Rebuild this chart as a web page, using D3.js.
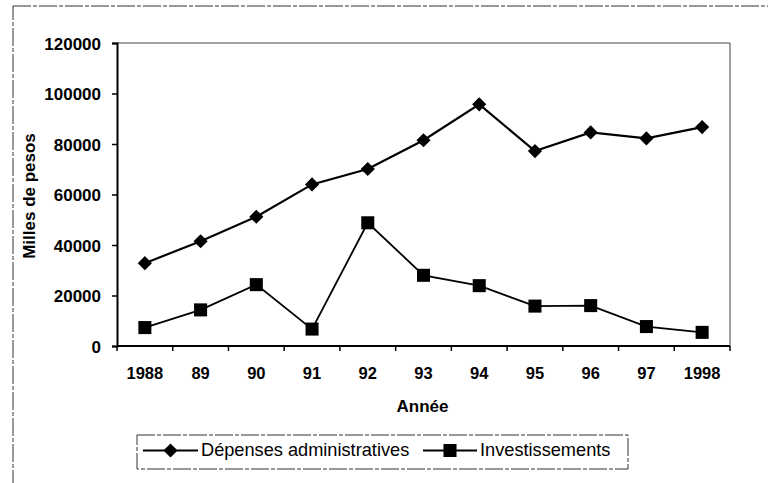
<!DOCTYPE html>
<html>
<head>
<meta charset="utf-8">
<script src="https://cdn.jsdelivr.net/npm/d3@7"></script>
<style>
  body { margin: 0; background: #fff; }
  text { font-family: "Liberation Sans", Arial, sans-serif; fill: #000; }
</style>
</head>
<body>
<div id="chart"></div>
<script>
const years = ["1988", "89", "90", "91", "92", "93", "94", "95", "96", "97", "1998"];
const depenses = [32800, 41500, 51200, 64000, 70100, 81500, 95700, 77200, 84600, 82200, 86700];
const investissements = [7300, 14300, 24300, 6700, 48800, 28000, 23900, 15800, 16000, 7700, 5400];
const yTicks = [0, 20000, 40000, 60000, 80000, 100000, 120000];
const seriesNames = ["Dépenses administratives", "Investissements"];

const W = 768, H = 483;
const margin = { top: 43, right: 38, bottom: 137, left: 117 };
const width = W - margin.left - margin.right,
  height = H - margin.top - margin.bottom;

const root = d3.select("#chart").append("svg").attr("width", W).attr("height", H);

// scanned outer frame
root.append("rect")
  .attr("x", 13).attr("y", 6).attr("width", 800).attr("height", 520)
  .attr("fill", "none").attr("stroke", "#333").attr("stroke-width", 1)
  .attr("stroke-dasharray", "18,2,4,2");

const svg = root.append("g").attr("transform", `translate(${margin.left},${margin.top})`);

const x = d3.scaleBand().domain(years).range([0, width]);
const y = d3.scaleLinear().domain([0, 120000]).range([height, 0]);

// plot frame top/right
svg.append("path")
  .attr("d", `M0,0H${width}V${height}`)
  .attr("fill", "none").attr("stroke", "#444").attr("stroke-width", 1);

// y axis
const yAxis = svg.append("g").call(d3.axisLeft(y).tickValues(yTicks).tickSize(5).tickFormat(d3.format("d")));
yAxis.select(".domain").attr("stroke-width", 2);
yAxis.selectAll(".tick line").attr("stroke-width", 1.5);
yAxis.selectAll(".tick text").attr("x", -16).attr("dy", "0.36em")
  .attr("font-size", 17).attr("font-weight", "bold").attr("font-family", "Liberation Sans, Arial");

// x axis with ticks on category boundaries
const xAxisG = svg.append("g").attr("transform", `translate(0,${height})`);
xAxisG.append("line").attr("x1", 0).attr("x2", width).attr("stroke", "#000").attr("stroke-width", 2);
xAxisG.selectAll(".bt").data(d3.range(years.length + 1)).join("line")
  .attr("x1", (i) => i * x.step()).attr("x2", (i) => i * x.step())
  .attr("y1", 0).attr("y2", 5).attr("stroke", "#000").attr("stroke-width", 1.5);
xAxisG.selectAll(".lbl").data(years).join("text")
  .attr("x", (d) => x(d) + x.bandwidth() / 2)
  .attr("y", 33)
  .attr("text-anchor", "middle")
  .attr("font-size", 16.5).attr("font-weight", "bold")
  .text((d) => d);

// axis titles
svg.append("text")
  .attr("x", width / 2 - 1).attr("y", height + 65.5)
  .attr("text-anchor", "middle").attr("font-size", 17).attr("font-weight", "bold")
  .text("Année");
root.append("text")
  .attr("transform", `translate(35,196) rotate(-90)`)
  .attr("text-anchor", "middle").attr("font-size", 17).attr("font-weight", "bold")
  .text("Milles de pesos");

const cx = (i) => x(years[i]) + x.bandwidth() / 2;
const line = d3.line().x((d, i) => cx(i)).y((d) => y(d));

svg.append("path").datum(depenses)
  .attr("fill", "none").attr("stroke", "#000").attr("stroke-width", 2.2).attr("d", line);
svg.append("path").datum(investissements)
  .attr("fill", "none").attr("stroke", "#000").attr("stroke-width", 1.8).attr("d", line);

const diamond = d3.symbol().type(d3.symbolSquare).size(100); // rotated 45deg
const square = d3.symbol().type(d3.symbolSquare).size(170);

svg.selectAll(".dep").data(depenses).join("path")
  .attr("transform", (d, i) => `translate(${cx(i)},${y(d)}) rotate(45)`)
  .attr("d", diamond).attr("fill", "#000");
svg.selectAll(".inv").data(investissements).join("path")
  .attr("transform", (d, i) => `translate(${cx(i)},${y(d)})`)
  .attr("d", square).attr("fill", "#000");

// legend
const lg = root.append("g");
lg.append("rect").attr("x", 137).attr("y", 435).attr("width", 491).attr("height", 34)
  .attr("fill", "none").attr("stroke", "#333").attr("stroke-dasharray", "18,2,4,2");
const legendItems = [
  { name: seriesNames[0], x0: 143, x1: 198, type: "diamond" },
  { name: seriesNames[1], x0: 423, x1: 477, type: "square" }
];
legendItems.forEach((it) => {
  const my = 450.5;
  lg.append("line").attr("x1", it.x0).attr("x2", it.x1).attr("y1", my).attr("y2", my)
    .attr("stroke", "#000").attr("stroke-width", 2);
  const mx = (it.x0 + it.x1) / 2;
  if (it.type === "diamond") {
    lg.append("path").attr("transform", `translate(${mx},${my}) rotate(45)`)
      .attr("d", diamond).attr("fill", "#000");
  } else {
    lg.append("path").attr("transform", `translate(${mx},${my})`).attr("d", square).attr("fill", "#000");
  }
  lg.append("text").attr("x", it.x1 + 3).attr("y", 456)
    .attr("font-size", 18.2).text(it.name);
});
</script>
</body>
</html>
